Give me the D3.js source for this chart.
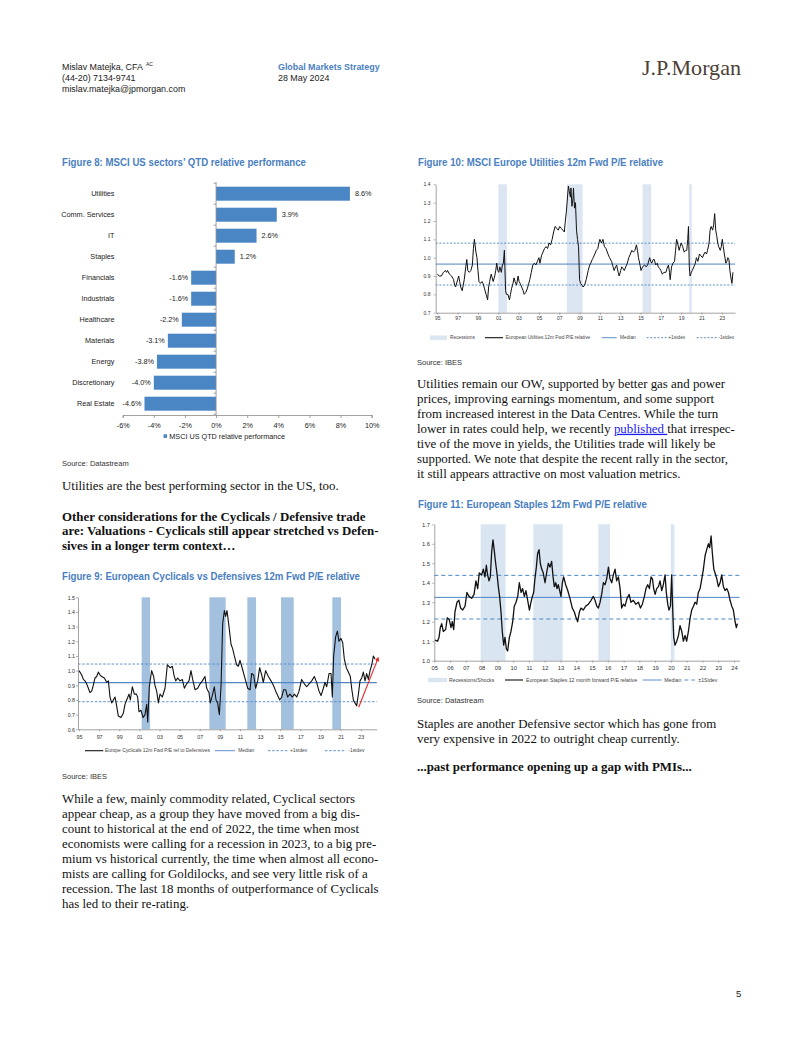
<!DOCTYPE html>
<html><head><meta charset="utf-8">
<script src="https://cdn.jsdelivr.net/npm/d3@7"></script>
<style>
html,body{margin:0;padding:0;background:#fff;}
svg{display:block;}
text{white-space:pre;}
</style></head><body>
<svg id="page" width="802" height="1037"></svg>
<script>
// ---------------- DATA ----------------
const fig8Categories = ["Utilities","Comm. Services","IT","Staples","Financials","Industrials","Healthcare","Materials","Energy","Discretionary","Real Estate"];
const fig8Values = [8.6,3.9,2.6,1.2,-1.6,-1.6,-2.2,-3.1,-3.8,-4.0,-4.6];
const fig8Ticks = [-6,-4,-2,0,2,4,6,8,10];

const fig10Recessions = [[2001.0,2001.85],[2007.75,2009.3],[2015.2,2016.05],[2019.8,2020.05]];
const fig10Refs = {median:0.965, plus:1.079, minus:0.851};
const fig10Series = [[1995.0,0.91],[1995.2,0.90],[1995.4,0.90],[1995.6,0.92],[1995.8,0.93],[1995.9,0.92],[1996.0,0.93],[1996.2,0.91],[1996.4,0.90],[1996.6,0.88],[1996.7,0.85],[1996.8,0.84],[1997.0,0.88],[1997.1,0.90],[1997.2,0.87],[1997.3,0.84],[1997.45,0.82],[1997.55,0.85],[1997.65,0.88],[1997.8,0.95],[1997.9,0.99],[1998.0,0.93],[1998.15,0.92],[1998.3,0.93],[1998.45,0.96],[1998.55,1.05],[1998.65,1.10],[1998.8,1.03],[1998.9,1.00],[1999.0,0.93],[1999.1,0.87],[1999.25,0.86],[1999.4,0.87],[1999.5,0.86],[1999.65,0.83],[1999.8,0.80],[1999.95,0.77],[2000.05,0.84],[2000.15,0.87],[2000.3,0.91],[2000.4,0.89],[2000.5,0.87],[2000.65,0.90],[2000.75,0.93],[2000.85,0.97],[2000.95,0.93],[2001.05,0.92],[2001.15,0.95],[2001.3,0.92],[2001.4,0.96],[2001.5,0.97],[2001.6,1.04],[2001.65,0.95],[2001.72,0.82],[2001.8,0.80],[2001.95,0.80],[2002.1,0.77],[2002.2,0.80],[2002.3,0.83],[2002.45,0.86],[2002.55,0.89],[2002.65,0.87],[2002.8,0.85],[2002.95,0.90],[2003.05,0.87],[2003.15,0.86],[2003.3,0.84],[2003.45,0.82],[2003.55,0.80],[2003.7,0.81],[2003.85,0.83],[2004.0,0.86],[2004.1,0.88],[2004.25,0.92],[2004.4,0.96],[2004.55,0.97],[2004.7,0.96],[2004.85,0.98],[2005.0,1.00],[2005.1,0.97],[2005.25,1.01],[2005.4,1.03],[2005.55,1.05],[2005.7,1.06],[2005.85,1.05],[2006.0,1.08],[2006.15,1.07],[2006.3,1.10],[2006.45,1.14],[2006.6,1.17],[2006.75,1.16],[2006.9,1.15],[2007.05,1.17],[2007.2,1.16],[2007.35,1.15],[2007.5,1.14],[2007.6,1.20],[2007.7,1.25],[2007.8,1.32],[2007.9,1.39],[2008.0,1.36],[2008.1,1.33],[2008.15,1.38],[2008.25,1.28],[2008.35,1.32],[2008.4,1.38],[2008.5,1.27],[2008.6,1.30],[2008.7,1.15],[2008.8,1.10],[2008.9,1.06],[2009.0,0.88],[2009.1,0.86],[2009.25,0.85],[2009.35,0.84],[2009.5,0.85],[2009.65,0.88],[2009.85,0.93],[2010.0,0.96],[2010.1,0.97],[2010.25,0.99],[2010.35,1.00],[2010.5,1.02],[2010.65,1.04],[2010.8,1.05],[2010.9,1.08],[2011.0,1.10],[2011.15,1.08],[2011.3,1.10],[2011.45,1.06],[2011.6,1.05],[2011.8,1.02],[2011.95,1.00],[2012.15,0.98],[2012.3,0.95],[2012.4,0.93],[2012.55,0.95],[2012.65,0.96],[2012.8,0.92],[2012.9,0.90],[2013.05,0.93],[2013.15,0.95],[2013.3,0.94],[2013.4,0.93],[2013.55,0.95],[2013.7,0.97],[2013.85,1.00],[2014.0,1.02],[2014.15,1.04],[2014.3,1.03],[2014.45,1.04],[2014.6,1.07],[2014.7,1.04],[2014.8,1.00],[2014.95,0.96],[2015.05,0.93],[2015.2,0.95],[2015.4,0.96],[2015.55,0.95],[2015.7,0.96],[2015.9,1.00],[2016.0,0.98],[2016.1,0.97],[2016.25,0.99],[2016.35,0.99],[2016.5,0.96],[2016.65,0.97],[2016.75,0.95],[2016.9,0.94],[2017.0,0.93],[2017.15,0.91],[2017.3,0.92],[2017.5,0.92],[2017.6,0.94],[2017.75,0.96],[2017.85,0.92],[2017.92,0.88],[2018.05,0.95],[2018.2,0.97],[2018.35,0.98],[2018.45,1.04],[2018.55,1.10],[2018.65,1.08],[2018.8,1.04],[2018.9,1.06],[2019.0,1.08],[2019.15,1.06],[2019.3,1.03],[2019.45,1.04],[2019.55,1.04],[2019.65,1.10],[2019.72,1.17],[2019.8,0.95],[2019.88,0.90],[2020.0,0.92],[2020.1,0.93],[2020.25,0.95],[2020.4,0.97],[2020.5,1.00],[2020.65,0.98],[2020.8,1.02],[2020.95,1.01],[2021.1,1.00],[2021.25,1.02],[2021.35,1.03],[2021.5,1.02],[2021.6,1.04],[2021.75,1.08],[2021.85,1.15],[2021.95,1.17],[2022.1,1.15],[2022.2,1.18],[2022.3,1.24],[2022.4,1.15],[2022.5,1.12],[2022.6,1.08],[2022.7,1.06],[2022.85,1.04],[2022.95,1.06],[2023.05,1.10],[2023.15,1.06],[2023.25,1.02],[2023.4,0.97],[2023.5,0.98],[2023.6,1.00],[2023.7,0.99],[2023.8,0.93],[2023.9,0.89],[2024.0,0.86],[2024.1,0.92]];

const fig9Recessions = [[2001.23,2002.06],[2007.96,2009.58],[2011.73,2012.6],[2015.08,2016.34],[2020.18,2021.04]];
const fig9Refs = {median:0.918, plus:1.045, minus:0.788};
const fig9Arrow = [[2022.8,0.75],[2024.7,1.08]];
const fig9Series = [[1995.0,1.00],[1995.27,0.97],[1995.43,0.94],[1995.6,0.93],[1995.76,0.91],[1995.93,0.88],[1996.09,0.85],[1996.26,0.86],[1996.42,0.90],[1996.59,0.95],[1996.76,0.96],[1996.92,0.99],[1997.09,0.97],[1997.25,0.96],[1997.52,0.95],[1997.75,0.92],[1997.92,0.93],[1998.08,0.82],[1998.25,0.78],[1998.41,0.80],[1998.58,0.82],[1998.74,0.76],[1998.91,0.69],[1999.17,0.68],[1999.41,0.71],[1999.57,0.77],[1999.74,0.80],[1999.97,0.84],[2000.1,0.80],[2000.3,0.89],[2000.5,0.84],[2000.7,0.84],[2000.83,0.82],[2000.96,0.72],[2001.16,0.73],[2001.36,0.68],[2001.56,0.70],[2001.73,0.77],[2001.83,0.65],[2001.99,0.89],[2002.22,1.00],[2002.42,0.96],[2002.55,0.90],[2002.72,0.86],[2002.89,0.78],[2003.05,0.84],[2003.28,0.82],[2003.55,0.88],[2003.78,1.04],[2004.05,1.02],[2004.28,1.03],[2004.44,0.97],[2004.61,0.93],[2004.81,0.95],[2005.04,0.93],[2005.27,0.94],[2005.47,0.88],[2005.7,0.91],[2005.93,0.93],[2006.13,1.00],[2006.3,0.94],[2006.53,0.87],[2006.8,0.88],[2007.03,0.91],[2007.26,0.93],[2007.52,0.96],[2007.69,0.88],[2007.92,0.85],[2008.05,0.78],[2008.25,0.83],[2008.45,0.89],[2008.62,0.80],[2008.78,0.78],[2008.95,0.70],[2009.12,0.90],[2009.28,1.32],[2009.45,1.41],[2009.58,1.37],[2009.71,1.41],[2009.91,1.30],[2010.11,1.18],[2010.27,1.15],[2010.44,1.10],[2010.67,1.04],[2010.84,1.03],[2011.0,1.07],[2011.17,1.03],[2011.37,0.98],[2011.57,0.93],[2011.77,0.88],[2012.0,0.87],[2012.16,0.98],[2012.36,0.97],[2012.56,0.88],[2012.76,0.93],[2012.96,1.02],[2013.16,0.97],[2013.32,0.92],[2013.55,1.00],[2013.82,0.96],[2014.09,0.93],[2014.32,0.90],[2014.55,0.86],[2014.75,0.83],[2014.95,0.80],[2015.15,0.82],[2015.34,0.87],[2015.54,0.87],[2015.74,0.82],[2015.97,0.84],[2016.21,0.82],[2016.41,0.84],[2016.64,0.82],[2016.87,0.86],[2017.13,0.94],[2017.4,0.91],[2017.63,0.89],[2017.86,0.91],[2018.13,0.93],[2018.39,0.96],[2018.62,0.92],[2018.86,0.86],[2019.06,0.83],[2019.29,0.88],[2019.45,0.92],[2019.62,0.89],[2019.85,0.98],[2020.05,0.98],[2020.18,0.82],[2020.31,1.10],[2020.51,1.23],[2020.68,1.27],[2020.84,1.20],[2021.04,1.22],[2021.21,1.19],[2021.37,1.08],[2021.57,1.02],[2021.77,0.99],[2021.97,0.96],[2022.1,0.88],[2022.27,0.80],[2022.43,0.78],[2022.6,0.76],[2022.77,0.84],[2022.93,0.93],[2023.1,0.95],[2023.26,0.99],[2023.43,0.93],[2023.59,0.98],[2023.76,0.94],[2023.93,1.00],[2024.1,1.04],[2024.26,1.10],[2024.42,1.08]];

const fig11Shocks = [[2007.94,2009.52],[2011.28,2013.14],[2015.4,2016.14],[2019.99,2020.22]];
const fig11Refs = {median:1.325, plus:1.438, minus:1.214};
const fig11Series = [[2005.04,1.106],[2005.21,1.10],[2005.3,1.12],[2005.38,1.17],[2005.47,1.19],[2005.57,1.15],[2005.72,1.16],[2005.82,1.22],[2005.95,1.21],[2006.06,1.17],[2006.14,1.20],[2006.23,1.16],[2006.31,1.25],[2006.44,1.30],[2006.56,1.31],[2006.67,1.27],[2006.8,1.26],[2006.95,1.28],[2007.07,1.35],[2007.2,1.33],[2007.37,1.32],[2007.52,1.34],[2007.64,1.41],[2007.75,1.37],[2007.85,1.45],[2008.0,1.44],[2008.11,1.47],[2008.21,1.43],[2008.3,1.49],[2008.38,1.44],[2008.47,1.41],[2008.55,1.43],[2008.64,1.56],[2008.72,1.62],[2008.81,1.56],[2008.89,1.50],[2008.97,1.45],[2009.06,1.38],[2009.14,1.33],[2009.23,1.25],[2009.31,1.15],[2009.4,1.08],[2009.48,1.12],[2009.57,1.06],[2009.65,1.05],[2009.76,1.12],[2009.86,1.15],[2009.97,1.20],[2010.07,1.28],[2010.18,1.30],[2010.29,1.33],[2010.39,1.40],[2010.5,1.35],[2010.6,1.37],[2010.71,1.33],[2010.81,1.36],[2010.92,1.31],[2011.03,1.26],[2011.13,1.30],[2011.22,1.33],[2011.3,1.35],[2011.38,1.42],[2011.47,1.48],[2011.55,1.55],[2011.64,1.57],[2011.72,1.50],[2011.81,1.47],[2011.91,1.45],[2012.02,1.40],[2012.12,1.45],[2012.23,1.50],[2012.34,1.48],[2012.44,1.51],[2012.53,1.43],[2012.61,1.38],[2012.7,1.40],[2012.78,1.37],[2012.86,1.39],[2012.95,1.36],[2013.03,1.33],[2013.12,1.40],[2013.2,1.43],[2013.33,1.39],[2013.46,1.36],[2013.6,1.32],[2013.75,1.27],[2013.88,1.25],[2013.99,1.22],[2014.09,1.20],[2014.2,1.25],[2014.3,1.27],[2014.45,1.26],[2014.6,1.28],[2014.77,1.29],[2014.94,1.31],[2015.08,1.33],[2015.19,1.31],[2015.3,1.28],[2015.4,1.27],[2015.51,1.30],[2015.61,1.34],[2015.72,1.40],[2015.82,1.39],[2015.93,1.42],[2016.04,1.48],[2016.14,1.42],[2016.25,1.40],[2016.35,1.44],[2016.46,1.47],[2016.56,1.41],[2016.67,1.43],[2016.78,1.37],[2016.88,1.27],[2016.99,1.29],[2017.09,1.28],[2017.22,1.32],[2017.35,1.34],[2017.47,1.30],[2017.62,1.31],[2017.77,1.29],[2017.94,1.30],[2018.07,1.27],[2018.19,1.29],[2018.32,1.33],[2018.42,1.37],[2018.53,1.39],[2018.64,1.37],[2018.74,1.43],[2018.83,1.42],[2018.91,1.37],[2019.0,1.34],[2019.1,1.37],[2019.21,1.38],[2019.31,1.41],[2019.42,1.36],[2019.52,1.39],[2019.63,1.44],[2019.71,1.35],[2019.8,1.29],[2019.88,1.26],[2019.97,1.28],[2020.05,1.44],[2020.12,1.25],[2020.18,1.12],[2020.26,1.08],[2020.37,1.10],[2020.48,1.13],[2020.58,1.18],[2020.69,1.15],[2020.79,1.10],[2020.9,1.13],[2021.0,1.10],[2021.11,1.15],[2021.22,1.22],[2021.32,1.26],[2021.43,1.28],[2021.53,1.30],[2021.64,1.29],[2021.74,1.35],[2021.85,1.37],[2021.96,1.42],[2022.06,1.47],[2022.17,1.54],[2022.27,1.57],[2022.38,1.60],[2022.46,1.58],[2022.55,1.64],[2022.63,1.55],[2022.72,1.47],[2022.8,1.45],[2022.91,1.42],[2023.01,1.38],[2023.12,1.40],[2023.22,1.44],[2023.33,1.38],[2023.43,1.36],[2023.54,1.37],[2023.65,1.35],[2023.75,1.31],[2023.86,1.28],[2023.96,1.26],[2024.07,1.20],[2024.15,1.17],[2024.22,1.19]];

const ticksBiennial = [1995,1997,1999,2001,2003,2005,2007,2009,2011,2013,2015,2017,2019,2021,2023];
const ticksAnnual = [2005,2006,2007,2008,2009,2010,2011,2012,2013,2014,2015,2016,2017,2018,2019,2020,2021,2022,2023,2024];

// text content
const leftPara1 = ["Utilities are the best performing sector in the US, too."];
const leftHeading = ["Other considerations for the Cyclicals / Defensive trade","are: Valuations - Cyclicals still appear stretched vs Defen-","sives in a longer term context\u2026"];
const leftPara2 = ["While a few, mainly commodity related, Cyclical sectors","appear cheap, as a group they have moved from a big dis-","count to historical at the end of 2022, the time when most","economists were calling for a recession in 2023, to a big pre-","mium vs historical currently, the time when almost all econo-","mists are calling for Goldilocks, and see very little risk of a","recession. The last 18 months of outperformance of Cyclicals","has led to their re-rating."];
const rightPara1 = ["Utilities remain our OW, supported by better gas and power","prices, improving earnings momentum, and some support","from increased interest in the Data Centres. While the turn",["lower in rates could help, we recently ","published ","that irrespec-"],"tive of the move in yields, the Utilities trade will likely be","supported. We note that despite the recent rally in the sector,","it still appears attractive on most valuation metrics."];
const rightPara2 = ["Staples are another Defensive sector which has gone from","very expensive in 2022 to outright cheap currently."];
const rightHeading = ["...past performance opening up a gap with PMIs..."];

// ---------------- RENDER ----------------
const svg = d3.select("#page");
svg.append("rect").attr("width",802).attr("height",1037).attr("fill","#fff");

const SANS = "Arial, 'Liberation Sans', Helvetica, sans-serif";
const SERIF = "'Times New Roman', 'Liberation Serif', Times, serif";
const TITLE = "#4a80bf";
const BAR = "#4a86c4";
const BLUE_LINE = "#4f86c6";

function txt(x,y,s,o={}){
  const t = svg.append("text").attr("x",x).attr("y",y).text(s)
    .attr("font-family",o.family||SANS).attr("font-size",o.size||9)
    .attr("fill",o.fill||"#222");
  if(o.weight) t.attr("font-weight",o.weight);
  if(o.anchor) t.attr("text-anchor",o.anchor);
  if(o.len) t.attr("textLength",o.len).attr("lengthAdjust","spacingAndGlyphs");
  return t;
}

// Header
txt(62,70.2,"Mislav Matejka, CFA",{size:8.9});
txt(146,65.5,"AC",{size:5});
txt(62,81.2,"(44-20) 7134-9741",{size:8.9});
txt(62,92.2,"mislav.matejka@jpmorgan.com",{size:8.9});
txt(278,70.2,"Global Markets Strategy",{size:8.9,weight:"bold",fill:TITLE});
txt(278,81.2,"28 May 2024",{size:8.9});
txt(642,74.5,"J.P.Morgan",{size:21.5,family:SERIF,fill:"#4d4036",len:99});

// Titles and sources
const titleOpts = {size:10.2,weight:"bold",fill:TITLE};
txt(62,166,"Figure 8: MSCI US sectors\u2019 QTD relative performance",Object.assign({len:244},titleOpts));
txt(418,166,"Figure 10: MSCI Europe Utilities 12m Fwd P/E relative",Object.assign({len:245},titleOpts));
txt(62,580,"Figure 9: European Cyclicals vs Defensives 12m Fwd P/E relative",Object.assign({len:298},titleOpts));
txt(418,508,"Figure 11: European Staples 12m Fwd P/E relative",Object.assign({len:229},titleOpts));

txt(62,466,"Source: Datastream",{size:7.5,fill:"#333"});
txt(62,778.5,"Source: IBES",{size:7.5,fill:"#333"});
txt(417,365,"Source: IBES",{size:7.5,fill:"#333"});
txt(417,703,"Source: Datastream",{size:7.5,fill:"#333"});

// Body text
function para(lines,x,y0,lh,o={}){
  lines.forEach((l,i)=>{
    const t = svg.append("text").attr("x",x).attr("y",y0+i*lh)
      .attr("font-family",SERIF).attr("font-size",12.9).attr("fill","#111");
    if(o.weight) t.attr("font-weight",o.weight);
    if(Array.isArray(l)){
      t.append("tspan").text(l[0]);
      t.append("tspan").text(l[1]).attr("fill","#1a1aee").attr("text-decoration","underline");
      t.append("tspan").text(l[2]);
    } else t.text(l);
  });
}
para(leftPara1,62,489.5,15);
para(leftHeading,62,520.5,14.7,{weight:"bold"});
para(leftPara2,62,802.5,15.1);
para(rightPara1,417,387.5,15.1);
para(rightPara2,417,727.5,15.1);
para(rightHeading,417,771,15,{weight:"bold"});

txt(736,996.5,"5",{size:9.5});

// ---------------- FIGURE 8 ----------------
(function(){
  const g = svg.append("g");
  const x = d3.scaleLinear().domain([-6,10]).range([122.7,371.7]);
  const y = d3.scaleBand().domain(fig8Categories).range([183.2,414.2]).paddingInner(1/3).paddingOuter(1/6);
  const data = fig8Categories.map((c,i)=>({c,v:fig8Values[i]}));
  g.selectAll("rect.bar").data(data).join("rect").attr("class","bar")
    .attr("x",d=>x(Math.min(0,d.v))).attr("width",d=>Math.abs(x(d.v)-x(0)))
    .attr("y",d=>y(d.c)).attr("height",y.bandwidth()).attr("fill",BAR);
  // zero axis
  g.append("line").attr("x1",x(0)).attr("x2",x(0)).attr("y1",182).attr("y2",415).attr("stroke","#8c8c8c").attr("stroke-width",0.8);
  g.selectAll("line.ct").data(d3.range(fig8Categories.length+1)).join("line").attr("class","ct")
    .attr("x1",x(0)-2.5).attr("x2",x(0)).attr("y1",i=>183.2+i*y.step()).attr("y2",i=>183.2+i*y.step())
    .attr("stroke","#8c8c8c").attr("stroke-width",0.8);
  // bottom axis
  const ax = g.append("g").attr("transform","translate(0,415)")
    .call(d3.axisBottom(x).tickValues(fig8Ticks).tickFormat(d=>d+"%").tickSize(3).tickPadding(5.2));
  ax.select(".domain").attr("stroke","#8c8c8c").attr("stroke-width",0.8);
  ax.selectAll(".tick line").attr("stroke","#8c8c8c").attr("stroke-width",0.8);
  ax.selectAll("text").attr("font-family",SANS).attr("font-size",7.25).attr("fill","#222");
  // category labels
  g.selectAll("text.cat").data(data).join("text").attr("class","cat")
    .attr("x",114.5).attr("y",d=>y(d.c)+y.bandwidth()/2).attr("dy","0.35em")
    .attr("text-anchor","end").attr("font-family",SANS).attr("font-size",7.25).attr("fill","#222").text(d=>d.c);
  // value labels
  g.selectAll("text.val").data(data).join("text").attr("class","val")
    .attr("x",d=>d.v>=0?x(d.v)+5:x(d.v)-3).attr("y",d=>y(d.c)+y.bandwidth()/2).attr("dy","0.35em")
    .attr("text-anchor",d=>d.v>=0?"start":"end").attr("font-family",SANS).attr("font-size",7.25).attr("fill","#222")
    .text(d=>d.v.toFixed(1)+"%");
  // legend
  g.append("rect").attr("x",163.5).attr("y",434.3).attr("width",3.6).attr("height",3.6).attr("fill",BAR);
  g.append("text").attr("x",169.3).attr("y",439).attr("font-family",SANS).attr("font-size",7.25).attr("fill","#222")
    .text("MSCI US QTD relative performance");
})();

// ---------------- LINE CHART HELPER ----------------
function lineChart(cfg){
  const g = svg.append("g");
  const x = d3.scaleLinear().domain(cfg.xDomain).range(cfg.xRange);
  const y = d3.scaleLinear().domain(cfg.yDomain).range(cfg.yRange);
  const top = cfg.yRange[1], bot = cfg.yRange[0];
  g.selectAll("rect.sh").data(cfg.shade).join("rect").attr("class","sh")
    .attr("x",d=>x(d[0])).attr("width",d=>x(d[1])-x(d[0]))
    .attr("y",top).attr("height",bot-top).attr("fill",cfg.shadeColor);
  const refs = [
    {v:cfg.refs.median,dash:null,w:cfg.medW||1},
    {v:cfg.refs.plus,dash:cfg.dash,w:cfg.dashW||0.9},
    {v:cfg.refs.minus,dash:cfg.dash,w:cfg.dashW||0.9}];
  g.selectAll("line.ref").data(refs).join("line").attr("class","ref")
    .attr("x1",cfg.xRange[0]).attr("x2",cfg.xRange[1])
    .attr("y1",d=>y(d.v)).attr("y2",d=>y(d.v))
    .attr("stroke",cfg.refColor).attr("stroke-width",d=>d.w)
    .attr("stroke-dasharray",d=>d.dash);
  g.append("path").datum(cfg.series)
    .attr("d",d3.line().x(d=>x(d[0])).y(d=>y(d[1])))
    .attr("fill","none").attr("stroke","#111").attr("stroke-width",cfg.lineW||1.1).attr("stroke-linejoin","round");
  // axes
  const ya = g.append("g").attr("transform",`translate(${cfg.xRange[0]},0)`)
    .call(d3.axisLeft(y).tickValues(cfg.yTicks).tickFormat(d3.format(".1f")).tickSize(2).tickPadding(cfg.yPad).tickSizeOuter(0));
  const xa = g.append("g").attr("transform",`translate(0,${bot})`)
    .call(d3.axisBottom(x).tickValues(cfg.xTicks).tickFormat(d=>String(d).slice(2)).tickSize(2).tickPadding(cfg.xPad).tickSizeOuter(0));
  [ya,xa].forEach(a=>{
    a.select(".domain").attr("stroke","#8c8c8c").attr("stroke-width",0.8);
    a.selectAll(".tick line").attr("stroke","#8c8c8c").attr("stroke-width",0.7);
    a.selectAll("text").attr("font-family",SANS).attr("font-size",cfg.tickSize).attr("fill","#333");
  });
  // legend
  const ly = cfg.legendY;
  cfg.legend.forEach(it=>{
    if(it.type==="rect") g.append("rect").attr("x",it.x1).attr("y",ly-2.2).attr("width",it.x2-it.x1).attr("height",4.4).attr("fill",cfg.shadeColor);
    else g.append("line").attr("x1",it.x1).attr("x2",it.x2).attr("y1",ly).attr("y2",ly)
      .attr("stroke",it.type==="black"?"#111":cfg.refColor).attr("stroke-width",it.type==="black"?1.1:0.9)
      .attr("stroke-dasharray",it.type==="dash"?cfg.dash:null);
    g.append("text").attr("x",it.tx).attr("y",ly).attr("dy","0.35em").attr("font-family",SANS)
      .attr("font-size",cfg.legendSize).attr("fill","#444").text(it.label);
  });
  return {g,x,y};
}

// ---------------- FIGURE 10 ----------------
lineChart({
  xDomain:[1994.84,2024.31], xRange:[435.7,735.1],
  yDomain:[0.7,1.4], yRange:[312.7,184.3],
  shade:fig10Recessions, shadeColor:"#dce6f2",
  refs:fig10Refs, refColor:"#4f81bd", dash:"2,1.6", medW:1,
  series:fig10Series, lineW:1,
  yTicks:[0.7,0.8,0.9,1.0,1.1,1.2,1.3,1.4], xTicks:ticksBiennial,
  yPad:3.2, xPad:2, tickSize:5,
  legendY:337.7, legendSize:4.8,
  legend:[
    {type:"rect",x1:430,x2:447,tx:450,label:"Recessions"},
    {type:"black",x1:485,x2:503,tx:505.7,label:"European Utilities 12m Fwd P/E relative"},
    {type:"line",x1:601.7,x2:616.7,tx:620,label:"Median"},
    {type:"dash",x1:646.7,x2:666.7,tx:668.3,label:"+1stdev"},
    {type:"dash",x1:696.7,x2:716.7,tx:718.3,label:"-1stdev"}]
});

// ---------------- FIGURE 9 ----------------
const f9 = lineChart({
  xDomain:[1994.9,2024.6], xRange:[78,376.8],
  yDomain:[0.6,1.5], yRange:[729.3,597.3],
  shade:fig9Recessions, shadeColor:"#a3c0df",
  refs:fig9Refs, refColor:"#4f86c6", dash:"2.5,1.7", medW:1.2,
  series:fig9Series, lineW:1.1,
  yTicks:[0.6,0.7,0.8,0.9,1.0,1.1,1.2,1.3,1.4,1.5], xTicks:ticksBiennial,
  yPad:1, xPad:4.4, tickSize:5.3,
  legendY:750.7, legendSize:4.9,
  legend:[
    {type:"black",x1:85,x2:103.3,tx:105,label:"Europe Cyclicals 12m Fwd P/E rel to Defensives"},
    {type:"line",x1:215,x2:235,tx:238.3,label:"Median"},
    {type:"dash",x1:268,x2:288,tx:290,label:"+1stdev"},
    {type:"dash",x1:325,x2:345,tx:348.3,label:"-1stdev"}]
});
// red arrow annotation
svg.append("defs").append("marker").attr("id","ah").attr("viewBox","0 0 10 10").attr("refX",5).attr("refY",5)
  .attr("markerWidth",4).attr("markerHeight",4).attr("orient","auto")
  .append("path").attr("d","M0,0 L10,5 L0,10 z").attr("fill","#e8242a");
svg.append("line")
  .attr("x1",f9.x(fig9Arrow[0][0])).attr("y1",f9.y(fig9Arrow[0][1]))
  .attr("x2",f9.x(fig9Arrow[1][0])).attr("y2",f9.y(fig9Arrow[1][1]))
  .attr("stroke","#e8242a").attr("stroke-width",1.1).attr("marker-end","url(#ah)");

// ---------------- FIGURE 11 ----------------
lineChart({
  xDomain:[2005,2024.35], xRange:[434.3,739.5],
  yDomain:[1.0,1.7], yRange:[660.7,524.3],
  shade:fig11Shocks, shadeColor:"#dae5f2",
  refs:fig11Refs, refColor:"#4a86c5", dash:"4,3", medW:1, dashW:1,
  series:fig11Series, lineW:1.3,
  yTicks:[1.0,1.1,1.2,1.3,1.4,1.5,1.6,1.7], xTicks:ticksAnnual,
  yPad:2.3, xPad:3.2, tickSize:5.8,
  legendY:680, legendSize:5.2,
  legend:[
    {type:"rect",x1:428,x2:447,tx:449,label:"Recessions/Shocks"},
    {type:"black",x1:505,x2:523,tx:526,label:"European Staples 12 month forward P/E relative"},
    {type:"line",x1:642.7,x2:661.7,tx:664.3,label:"Median"},
    {type:"dash",x1:684.3,x2:695,tx:698.3,label:"\u00b11Stdev"}]
});
</script>
</body></html>
